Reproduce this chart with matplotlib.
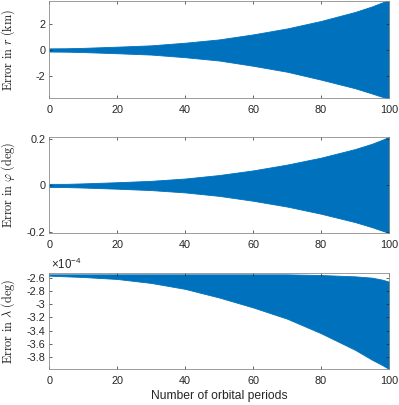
import numpy as np
import matplotlib
matplotlib.use("Agg")
import matplotlib.pyplot as plt
from matplotlib.ticker import FormatStrFormatter

plt.rcParams["font.family"] = ["Liberation Sans", "DejaVu Sans"]
plt.rcParams["mathtext.fontset"] = "custom"
plt.rcParams["mathtext.rm"] = "Liberation Sans"
plt.rcParams["axes.unicode_minus"] = False

# envelope of the oscillating error
periods = [0, 5, 10, 20, 30, 40, 50, 60, 70, 80, 90, 95, 98, 100]
r_upper = [0.12, 0.13, 0.16, 0.25, 0.35, 0.55, 0.8, 1.18, 1.63, 2.2, 2.88, 3.3, 3.6, 3.8]
r_lower = [-0.12, -0.13, -0.16, -0.25, -0.35, -0.55, -0.8, -1.2, -1.65, -2.25, -2.9, -3.3, -3.55, -3.7]
phi_upper = [0.007, 0.007, 0.009, 0.014, 0.02, 0.03, 0.045, 0.065, 0.09, 0.12, 0.157, 0.18, 0.197, 0.21]
phi_lower = [-0.007, -0.007, -0.009, -0.014, -0.02, -0.03, -0.045, -0.066, -0.091, -0.122, -0.158, -0.18, -0.195, -0.205]
lam_upper = [-2.55, -2.55, -2.55, -2.55, -2.55, -2.55, -2.55, -2.55, -2.55, -2.56, -2.58, -2.6, -2.63, -2.66]
lam_lower = [-2.57, -2.58, -2.59, -2.62, -2.68, -2.77, -2.9, -3.05, -3.22, -3.44, -3.69, -3.84, -3.92, -3.98]

blue = "#0072BD"
fig = plt.figure(figsize=(3.99, 4.05), dpi=100)

W, H = 399, 405
def box(top, bottom):
    return [49.3 / W, 1 - bottom / H, (389 - 49.3) / W, (bottom - top) / H]

ax1 = fig.add_axes(box(1, 98))
ax2 = fig.add_axes(box(137, 233))
ax3 = fig.add_axes(box(272.7, 369))

ax1.fill_between(periods, r_lower, r_upper, color=blue, lw=0.6, edgecolor=blue)
ax2.fill_between(periods, phi_lower, phi_upper, color=blue, lw=0.6, edgecolor=blue)
ax3.fill_between(periods, lam_lower, lam_upper, color=blue, lw=0.6, edgecolor=blue)

ax1.set_ylim(-3.64, 3.71)
ax1.set_yticks([-2, 0, 2])
ax2.set_ylim(-0.205, 0.209)
ax2.set_yticks([-0.2, 0, 0.2])
ax3.set_ylim(-3.98, -2.525)
ax3.set_yticks([-3.8, -3.6, -3.4, -3.2, -3.0, -2.8, -2.6])

labels = [r"$\mathrm{Error\ in\ }r\mathrm{\ (km)}$",
          r"$\mathrm{Error\ in\ }\varphi\mathrm{\ (deg)}$",
          r"$\mathrm{Error\ in\ }\lambda\mathrm{\ (deg)}$"]

for ax, lab in zip([ax1, ax2, ax3], labels):
    ax.set_xlim(0, 100)
    ax.set_xticks([0, 20, 40, 60, 80, 100])
    ax.yaxis.set_major_formatter(FormatStrFormatter("%g"))
    ax.tick_params(direction="in", length=2.5, width=0.5, top=True, right=True,
                   labelsize=7.8, colors="0.15")
    ax.tick_params(axis="x", pad=5)
    ax.tick_params(axis="y", pad=3)
    for s in ax.spines.values():
        s.set_color("0.55")
        s.set_linewidth(0.6)
    ax.set_ylabel(lab, fontsize=8.8, math_fontfamily="cm", color="0.1")
    ax.yaxis.set_label_coords(-0.096, 0.5)

ax3.set_xlabel("Number of orbital periods", fontsize=8.7, color="0.15", labelpad=3)
ax3.text(0.005, 1.01, r"$\times$10$^{-4}$", transform=ax3.transAxes,
         fontsize=8.3, color="0.15", va="bottom", ha="left")

fig.savefig("out.png", dpi=100)
